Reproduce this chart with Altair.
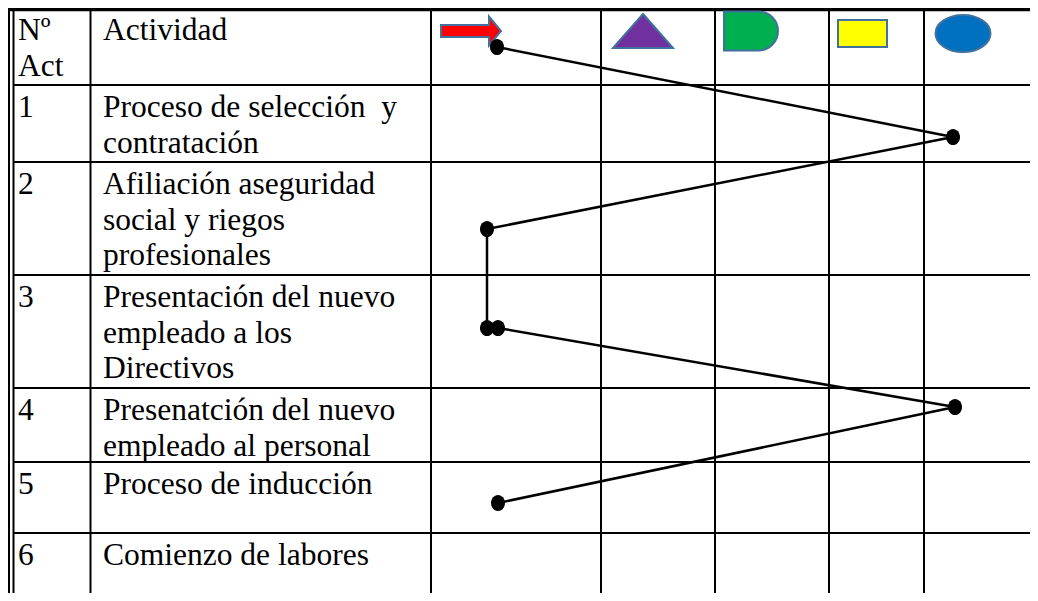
import altair as alt
import pandas as pd

# Chart area (table units = pixels of the table, origin at its top-left corner)
W, H = 1022, 585

# ---- table structure ----
outer_left = 1.0
col_edges = [5.5, 82.5, 423, 593, 707, 821, 916]
row_tops = [0, 77, 154, 267, 380, 454, 525]     # header, rows 1..6
top_border = 1.5

# ---- texts ----
header_no = ["Nº", "Act"]
header_act = ["Actividad"]
num_labels = ["1", "2", "3", "4", "5", "6"]
activities = [
    ["Proceso de selección\u00a0 y", "contratación"],
    ["Afiliación aseguridad", "social y riegos", "profesionales"],
    ["Presentación del nuevo", "empleado a los", "Directivos"],
    ["Presenatción del nuevo", "empleado al personal"],
    ["Proceso de inducción"],
    ["Comienzo de labores"],
]

# ---- header symbols ----
sym_kind = ["transporte", "almacenamiento", "demora", "inspeccion", "operacion"]
sym_x = [463, 635, 743, 854.5, 955]
sym_y = [23, 23, 23, 25.5, 25.5]
sym_w = [60, 60, 54, 49, 55]
sym_fill = ["#FF0000", "#7030A0", "#00B050", "#FFFF00", "#0070C0"]
sym_path = [
    "M -1 -0.2 L 0.6 -0.2 L 0.6 -0.48 L 1 0 L 0.6 0.48 L 0.6 0.2 L -1 0.2 Z",
    "M 0 -0.567 L 1 0.567 L -1 0.567 Z",
    "M -1 -0.722 L 0.278 -0.722 C 0.677 -0.722 1 -0.399 1 0 C 1 0.399 0.677 0.722 0.278 0.722 L -1 0.722 Z",
    "M -1 -0.551 L 1 -0.551 L 1 0.551 L -1 0.551 Z",
    "M -1 0 C -1 -0.372 -0.552 -0.673 0 -0.673 C 0.552 -0.673 1 -0.372 1 0 C 1 0.372 0.552 0.673 0 0.673 C -0.552 0.673 -1 0.372 -1 0 Z",
]

# ---- flow path (points of the diagram) ----
flow_x = [489, 945, 479, 479, 490, 947, 490]
flow_y = [39, 129, 221, 320, 320, 399, 495]
dot_path = "M -1 0 C -1 -0.637 -0.552 -1.154 0 -1.154 C 0.552 -1.154 1 -0.637 1 0 C 1 0.637 0.552 1.154 0 1.154 C -0.552 1.154 -1 0.637 -1 0 Z"

FONT = "Liberation Serif"
FS = 31.5
LINE_H = 35.5
TEXT_OFF = 23
NUM_X = 10
ACT_X = 95

xs = alt.Scale(domain=[0, W], nice=False, zero=False)
ys = alt.Scale(domain=[0, H], nice=False, zero=False, reverse=True)

# vertical rules
vdf = pd.DataFrame({"x": [outer_left] + col_edges, "y": 0, "y2": H})
vrules = alt.Chart(vdf).mark_rule(color="black", strokeWidth=2).encode(
    x=alt.X("x:Q", scale=xs, axis=None),
    y=alt.Y("y:Q", scale=ys, axis=None),
    y2="y2:Q",
)
# horizontal rules
hdf = pd.DataFrame({"y": row_tops[1:], "x": col_edges[0], "x2": W})
hrules = alt.Chart(hdf).mark_rule(color="black", strokeWidth=2).encode(
    y=alt.Y("y:Q", scale=ys, axis=None),
    x=alt.X("x:Q", scale=xs, axis=None),
    x2="x2:Q",
)
tdf = pd.DataFrame({"y": [top_border], "x": [outer_left - 1], "x2": [W]})
top = alt.Chart(tdf).mark_rule(color="black", strokeWidth=3.5).encode(
    y=alt.Y("y:Q", scale=ys, axis=None),
    x=alt.X("x:Q", scale=xs, axis=None),
    x2="x2:Q",
)

# texts
recs = []
for i, t in enumerate(header_no):
    recs.append({"x": NUM_X, "y": row_tops[0] + TEXT_OFF + i * LINE_H, "t": t})
for i, t in enumerate(header_act):
    recs.append({"x": ACT_X, "y": row_tops[0] + TEXT_OFF + i * LINE_H, "t": t})
for r, (n, lines) in enumerate(zip(num_labels, activities)):
    top_y = row_tops[r + 1]
    recs.append({"x": NUM_X, "y": top_y + TEXT_OFF, "t": n})
    for i, t in enumerate(lines):
        recs.append({"x": ACT_X, "y": top_y + TEXT_OFF + i * LINE_H, "t": t})
txt = alt.Chart(pd.DataFrame(recs)).mark_text(
    font=FONT, fontSize=FS, align="left", baseline="middle", color="black"
).encode(
    x=alt.X("x:Q", scale=xs, axis=None),
    y=alt.Y("y:Q", scale=ys, axis=None),
    text="t:N",
)

# symbols
sdf = pd.DataFrame({"k": sym_kind, "x": sym_x, "y": sym_y,
                    "s": [w * w for w in sym_w]})
syms = alt.Chart(sdf).mark_point(filled=True, stroke="#41719C", strokeWidth=2,
                                 opacity=1).encode(
    x=alt.X("x:Q", scale=xs, axis=None),
    y=alt.Y("y:Q", scale=ys, axis=None),
    shape=alt.Shape("k:N", scale=alt.Scale(domain=sym_kind, range=sym_path), legend=None),
    fill=alt.Fill("k:N", scale=alt.Scale(domain=sym_kind, range=sym_fill), legend=None),
    size=alt.Size("s:Q", scale=None),
)

# flow line and dots
fdf = pd.DataFrame({"o": list(range(len(flow_x))), "x": flow_x, "y": flow_y})
fline = alt.Chart(fdf).mark_line(color="black", strokeWidth=2.5).encode(
    x=alt.X("x:Q", scale=xs, axis=None),
    y=alt.Y("y:Q", scale=ys, axis=None),
    order="o:Q",
)
fdots = alt.Chart(fdf).mark_point(shape=dot_path, filled=True, color="black",
                                  opacity=1, size=196).encode(
    x=alt.X("x:Q", scale=xs, axis=None),
    y=alt.Y("y:Q", scale=ys, axis=None),
)

chart = alt.layer(vrules, hrules, top, txt, syms, fline, fdots).properties(
    width=W, height=H, padding=0, autosize=alt.AutoSizeParams(type="none"),
    background="white",
).configure_view(stroke=None)

chart.save("out.html", embed_options={"renderer": "svg", "actions": False})
